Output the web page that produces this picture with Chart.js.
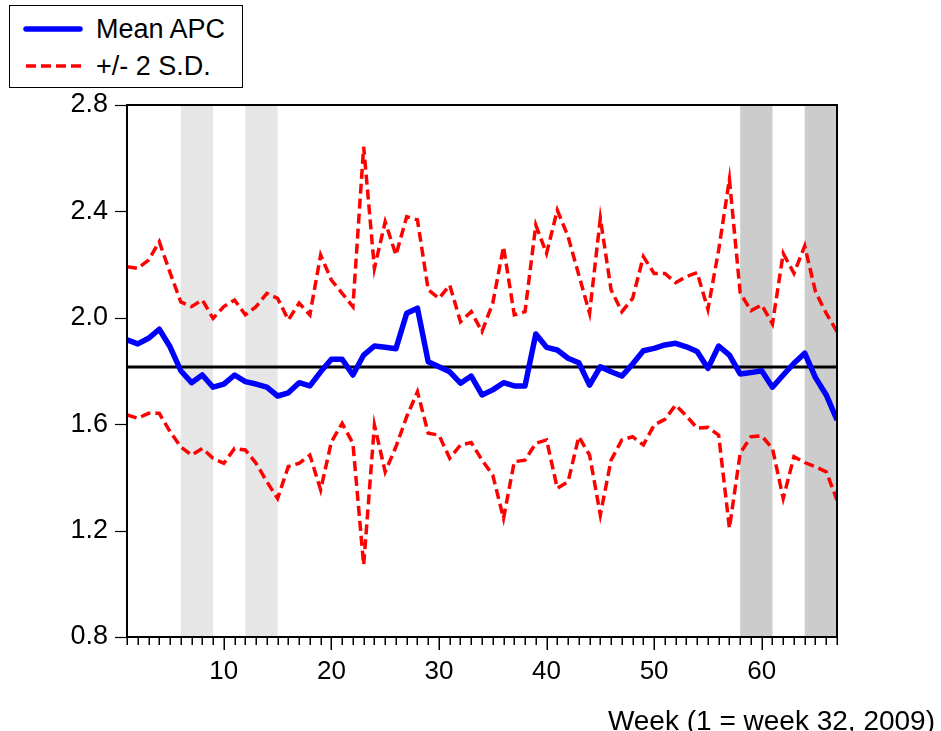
<!DOCTYPE html>
<html>
<head>
<meta charset="utf-8">
<script src="https://cdn.jsdelivr.net/npm/chart.js@4.4.1/dist/chart.umd.min.js"></script>
<style>
html,body{margin:0;padding:0;background:#fff;}
#wrap{position:relative;width:941px;height:731px;overflow:hidden;}
#c{position:absolute;left:0;top:0;}
#legend{position:absolute;left:9px;top:5px;width:232px;height:81px;border:1.5px solid #000;background:#fff;
  font-family:"Liberation Sans",Arial,sans-serif;font-size:27px;color:#000;}
#legend svg{position:absolute;left:0;top:0;}
#legend .t{position:absolute;left:86px;line-height:30px;white-space:nowrap;}
#xtitle{position:absolute;right:6px;top:704px;font-family:"Liberation Sans",Arial,sans-serif;font-size:28px;line-height:34px;color:#000;white-space:nowrap;}
</style>
</head>
<body>
<div id="wrap">
<canvas id="c" width="941" height="731"></canvas>
<div id="legend">
  <svg width="232" height="81">
    <line x1="16" y1="23" x2="70" y2="23" stroke="#0000ff" stroke-width="5.5" stroke-linecap="round"/>
    <line x1="16" y1="60" x2="72" y2="60" stroke="#ff0000" stroke-width="3.5" stroke-dasharray="10,5"/>
  </svg>
  <div class="t" style="top:8px">Mean APC</div>
  <div class="t" style="top:45px">+/- 2 S.D.</div>
</div>
<div id="xtitle">Week (1 = week 32, 2009)</div>
</div>
<script>
// ---- data ----
const weeks = Array.from({length: 67}, (_, i) => i + 1);
const meanAPC = [1.917,1.902,1.923,1.957,1.891,1.801,1.756,1.785,1.739,1.751,
                 1.785,1.760,1.751,1.739,1.706,1.718,1.756,1.744,1.797,1.844,
                 1.844,1.785,1.860,1.894,1.889,1.884,2.017,2.036,1.835,1.816,
                 1.797,1.754,1.781,1.710,1.729,1.756,1.744,1.744,1.939,1.889,
                 1.879,1.848,1.831,1.747,1.816,1.797,1.781,1.826,1.876,1.885,
                 1.898,1.904,1.891,1.873,1.810,1.894,1.860,1.789,1.794,1.801,
                 1.739,1.785,1.829,1.867,1.775,1.710,1.616];
const upper2SD = [2.192,2.186,2.217,2.286,2.170,2.060,2.042,2.067,1.998,2.042,
                  2.067,2.011,2.042,2.092,2.073,1.992,2.055,2.011,2.236,2.142,
                  2.092,2.042,2.643,2.186,2.361,2.236,2.380,2.368,2.105,2.073,
                  2.123,1.985,2.023,1.948,2.055,2.267,2.011,2.023,2.349,2.242,
                  2.405,2.305,2.161,2.017,2.374,2.105,2.023,2.073,2.230,2.167,
                  2.167,2.132,2.155,2.170,2.032,2.255,2.521,2.094,2.027,2.048,
                  1.977,2.242,2.167,2.270,2.098,2.017,1.948];
const lower2SD = [1.635,1.622,1.641,1.641,1.572,1.515,1.484,1.509,1.472,1.453,
                  1.509,1.503,1.453,1.384,1.321,1.441,1.453,1.484,1.353,1.534,
                  1.603,1.528,1.071,1.597,1.421,1.515,1.628,1.722,1.566,1.559,
                  1.472,1.522,1.531,1.465,1.409,1.246,1.459,1.465,1.528,1.541,
                  1.359,1.384,1.553,1.484,1.259,1.465,1.541,1.553,1.522,1.597,
                  1.618,1.672,1.631,1.585,1.588,1.559,1.209,1.491,1.553,1.556,
                  1.509,1.321,1.478,1.456,1.440,1.421,1.315];
const overallMean = 1.815;
const xTickValues = [10, 20, 30, 40, 50, 60];
const yTickValues = [0.8, 1.2, 1.6, 2.0, 2.4, 2.8];
const lightBandStarts = [6, 12];
const lightBandEnds   = [9, 15];
const darkBandStarts  = [58, 64];
const darkBandEnds    = [61, 67];

// ---- styles ----
const FONT = '"Liberation Sans", Arial, sans-serif';
const LIGHT = '#e6e6e6', DARK = '#cccccc';

const toXY = arr => weeks.map((w, i) => ({x: w, y: arr[i]}));

const decorPlugin = {
  id: 'decor',
  beforeDatasetsDraw(chart) {
    const {ctx, chartArea: a, scales: {x}} = chart;
    ctx.save();
    const band = (s, e, col) => s.forEach((v, i) => {
      const x0 = x.getPixelForValue(v), x1 = x.getPixelForValue(e[i]);
      ctx.fillStyle = col;
      ctx.fillRect(x0, a.top, x1 - x0, a.bottom - a.top);
    });
    band(lightBandStarts, lightBandEnds, LIGHT);
    band(darkBandStarts, darkBandEnds, DARK);
    ctx.restore();
  },
  afterDraw(chart) {
    const {ctx, chartArea: a, scales: {x, y}} = chart;
    ctx.save();
    ctx.strokeStyle = '#000';
    ctx.lineWidth = 1.5;
    weeks.forEach(w => {
      const px = Math.round(x.getPixelForValue(w)) + 0.25;
      const len = xTickValues.includes(w) ? 13 : 8;
      ctx.beginPath();
      ctx.moveTo(px, a.bottom);
      ctx.lineTo(px, a.bottom + len);
      ctx.stroke();
    });
    ctx.lineWidth = 1.2;
    yTickValues.forEach(v => {
      const py = Math.round(y.getPixelForValue(v)) + 0.5;
      ctx.beginPath();
      ctx.moveTo(a.left - 12, py);
      ctx.lineTo(a.left, py);
      ctx.stroke();
    });
    ctx.lineWidth = 2;
    ctx.strokeRect(a.left, a.top, a.right - a.left, a.bottom - a.top);
    ctx.restore();
  }
};

new Chart(document.getElementById('c'), {
  type: 'line',
  data: {
    datasets: [
      {label: 'Mean APC', data: toXY(meanAPC), borderColor: '#0000ff', borderWidth: 5.5,
       pointRadius: 0, tension: 0, fill: false, borderJoinStyle: 'round', borderCapStyle: 'butt'},
      {label: '+/- 2 S.D.', data: toXY(upper2SD), borderColor: '#ff0000', borderWidth: 3.5,
       borderDash: [10, 5], pointRadius: 0, tension: 0, fill: false},
      {label: 'lower', data: toXY(lower2SD), borderColor: '#ff0000', borderWidth: 3.5,
       borderDash: [10, 5], pointRadius: 0, tension: 0, fill: false},
      {label: 'mean level', data: [{x: weeks[0], y: overallMean}, {x: weeks[weeks.length - 1], y: overallMean}],
       borderColor: '#000000', borderWidth: 3, pointRadius: 0, fill: false}
    ]
  },
  options: {
    responsive: false,
    animation: false,
    devicePixelRatio: 1,
    layout: {padding: {top: 105, right: 104, left: 0, bottom: 0}},
    plugins: {legend: {display: false}, tooltip: {enabled: false}, title: {display: false}},
    scales: {
      x: {
        type: 'linear', min: 1, max: 67,
        grid: {display: false, drawTicks: false}, border: {display: false},
        afterBuildTicks: s => { s.ticks = xTickValues.map(v => ({value: v})); },
        afterFit: s => { s.height = 94; },
        ticks: {color: '#000', padding: 19, maxRotation: 0, autoSkip: false,
                font: {family: FONT, size: 26, lineHeight: 1.2},
                callback: v => String(v)}
      },
      y: {
        type: 'linear', min: 0.8, max: 2.8,
        grid: {display: false, drawTicks: false}, border: {display: false},
        afterBuildTicks: s => { s.ticks = yTickValues.map(v => ({value: v})); },
        afterFit: s => { s.width = 127; },
        ticks: {color: '#000', padding: 19, autoSkip: false,
                font: {family: FONT, size: 27, lineHeight: 1.2},
                callback: v => Number(v).toFixed(1)}
      }
    }
  },
  plugins: [decorPlugin]
});
</script>
</body>
</html>
